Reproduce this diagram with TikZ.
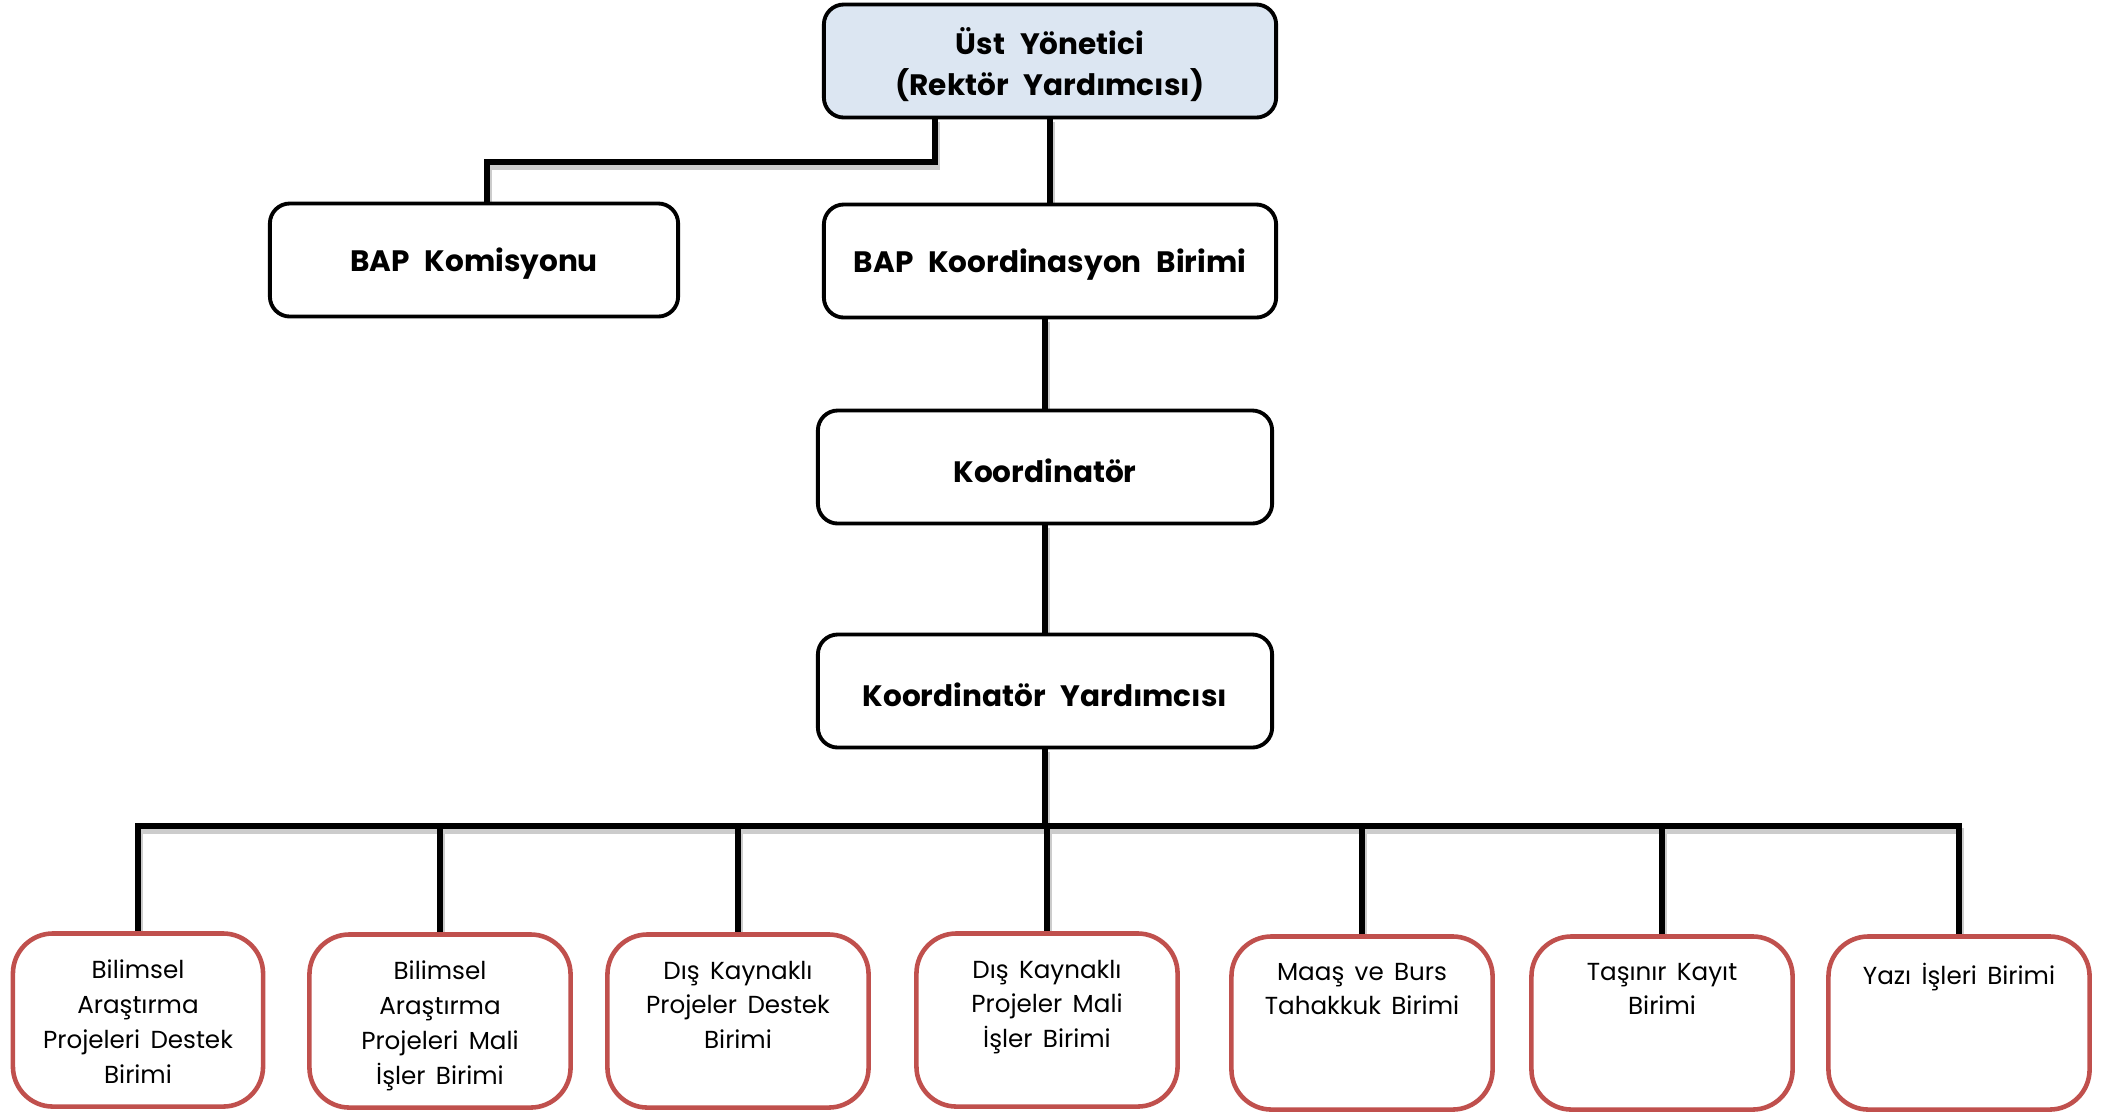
\documentclass[tikz,border=0pt]{standalone}
\usepackage{fontspec}
\setmainfont{Poppins}
\definecolor{boxred}{HTML}{C0504D}
\definecolor{topfill}{HTML}{DCE6F2}
\newcommand\myboldfont{\bfseries\fontsize{8.4}{11.8}\selectfont\spaceskip 0.5em plus 0.1em\relax}
\newcommand\mylightfont{\fontsize{7}{9.9}\selectfont\spaceskip 0.42em plus 0.1em\relax}
\pgfdeclarelayer{bg}
\pgfsetlayers{bg,main}
\begin{document}
\begin{tikzpicture}[x=0.01cm,y=-0.01cm,
  blackbox/.style={draw=black, fill=white, line width=1.1pt, rounded corners=0.2cm, minimum height=1.13cm, inner sep=0pt},
  boldlbl/.style={anchor=center, inner sep=0pt, align=center, yshift=-0.035cm, font=\myboldfont},
  redbox/.style={draw=boxred, fill=white, line width=1.3pt, rounded corners=0.4cm, minimum height=1.73cm, minimum width=2.61cm, inner sep=0pt},
  lbl/.style={anchor=north, inner sep=0pt, align=center, yshift=-0.28cm, font=\mylightfont},
  conn/.style={line width=1.5pt, line cap=rect},
  shadowconn/.style={line width=1.6pt, draw=black!20, line cap=rect}
]
\useasboundingbox (0,0) rectangle (2104,1111);

\node[blackbox, fill=topfill, minimum width=4.52cm, label={[boldlbl]center:Üst Yönetici\\(Rektör Yardımcısı)}] (top) at (1050,61) {};
\node[blackbox, minimum width=4.08cm, label={[boldlbl]center:BAP Komisyonu}] (kom) at (474,260) {};
\node[blackbox, minimum width=4.52cm, label={[boldlbl]center:BAP Koordinasyon Birimi}] (kbir) at (1050,261) {};
\node[blackbox, minimum width=4.54cm, label={[boldlbl]center:Koordinatör}] (koor) at (1045,467) {};
\node[blackbox, minimum width=4.54cm, label={[boldlbl]center:Koordinatör Yardımcısı}] (yard) at (1045,691) {};

\node[redbox, minimum width=2.50cm] (b1) at (138,1020) [label={[lbl]north:Bilimsel\\Araştırma\\Projeleri Destek\\Birimi}] {};
\node[redbox] (b2) at (440,1021) [label={[lbl]north:Bilimsel\\Araştırma\\Projeleri Mali\\İşler Birimi}] {};
\node[redbox] (b3) at (738,1021) [label={[lbl]north:Dış Kaynaklı\\Projeler Destek\\Birimi}] {};
\node[redbox] (b4) at (1047,1020) [label={[lbl]north:Dış Kaynaklı\\Projeler Mali\\İşler Birimi}] {};
\node[redbox] (b5) at (1362,1023) [label={[lbl]north:Maaş ve Burs\\Tahakkuk Birimi}] {};
\node[redbox] (b6) at (1662,1023) [label={[lbl]north:Taşınır Kayıt\\Birimi}] {};
\node[redbox] (b7) at (1959,1023) [label={[lbl]north:Yazı İşleri Birimi}] {};

\coordinate (j1) at (935,162);
\coordinate (j2) at (487,162);
\coordinate (bus) at (0,826);

\newcommand\allconns[1]{%
  \draw[#1] (top.south -| j1) -- (j1) -- (j2) -- (j2 |- kom.north);
  \draw[#1] (top.south) -- (kbir.north);
  \draw[#1] (kbir.south -| koor.north) -- (koor.north);
  \draw[#1] (koor.south) -- (yard.north);
  \draw[#1] (yard.south) -- (yard.south |- bus);
  \draw[#1] (b1.north |- bus) -- (b7.north |- bus);
  \foreach \b in {b1,b2,b3,b4,b5,b6,b7}
    \draw[#1] (\b.north |- bus) -- (\b.north);
}
\begin{pgfonlayer}{bg}
\begin{scope}[transform canvas={xshift=0.6pt,yshift=-1.4pt}]
  \allconns{shadowconn}
\end{scope}
\allconns{conn}
\end{pgfonlayer}
\end{tikzpicture}
\end{document}
